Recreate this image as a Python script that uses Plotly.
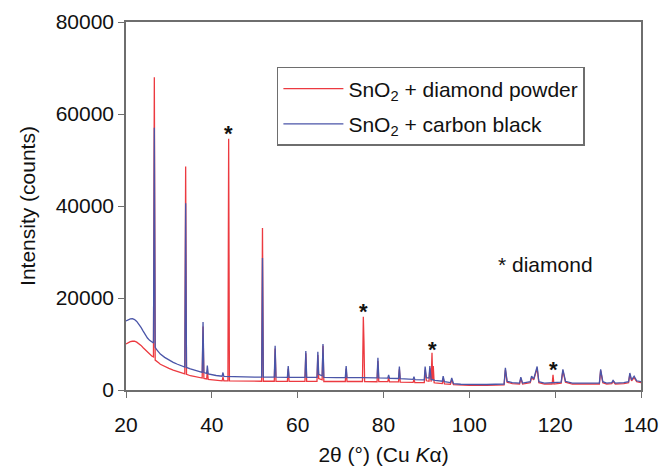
import plotly.graph_objects as go

# ---- data ----
red_name = "SnO<sub>2</sub> + diamond powder"
blue_name = "SnO<sub>2</sub> + carbon black"

red_points = [
    (20.0, 10000), (20.5, 10300), (21.0, 10500), (21.5, 10600), (22.0, 10600), (22.5, 10400),
    (23.0, 10100), (23.5, 9700), (24.0, 9200), (24.5, 8700), (25.0, 8200), (25.5, 7800),
    (26.0, 7400), (26.4, 7200), (26.6, 68000), (26.8, 6500), (27.2, 6100), (27.6, 5900),
    (28.0, 5600), (29.0, 5100), (30.0, 4700), (31.0, 4300), (32.0, 4000), (33.0, 3700),
    (33.7, 3500), (33.9, 48600), (34.1, 3400), (35.0, 3100), (36.0, 2900), (37.0, 2700),
    (37.75, 2600), (37.95, 13800), (38.15, 2500), (38.8, 2400), (38.95, 4200), (39.15, 2300),
    (40.0, 2200), (41.0, 2100), (42.4, 2000), (42.6, 2800), (42.8, 2000), (43.75, 2000),
    (43.92, 54600), (44.1, 2000), (46.0, 1950), (48.0, 1920), (50.0, 1900), (51.6, 1900),
    (51.8, 35200), (52.0, 1900), (54.55, 1900), (54.75, 9000), (54.95, 1900), (57.6, 1880),
    (57.8, 4600), (58.0, 1880), (61.7, 1870), (61.9, 8000), (62.1, 1870), (64.5, 1860),
    (64.7, 7600), (64.9, 2500), (65.7, 2200), (65.9, 9600), (66.1, 1850), (69.0, 1850),
    (71.1, 1850), (71.3, 4600), (71.5, 1850), (75.1, 1850), (75.3, 15900), (75.45, 10400),
    (75.6, 1850), (78.5, 1800), (78.7, 6300), (78.9, 1800), (81.0, 1800), (81.2, 2700),
    (81.4, 1780), (83.5, 1750), (83.7, 4500), (83.9, 1700), (86.9, 1650), (87.1, 2300),
    (87.3, 1600), (89.5, 1600), (89.7, 4400), (90.0, 2000), (90.6, 1900), (90.8, 4700),
    (91.1, 1800), (91.3, 8100), (91.45, 2200), (91.6, 5200), (91.8, 1600), (92.0, 1550),
    (93.7, 1400), (93.9, 2500), (94.2, 1350), (95.6, 1250), (95.9, 2200), (96.3, 1150),
    (98.0, 1050), (100.0, 1000), (104.0, 1000), (108.1, 1100), (108.4, 4400), (108.8, 1700),
    (110.0, 1400), (111.7, 1300), (112.0, 2500), (112.4, 1300), (114.2, 1600), (114.5, 2700),
    (115.0, 2200), (115.8, 4700), (116.2, 1600), (117.5, 1300), (119.3, 1300), (119.5, 3300),
    (119.7, 1300), (121.4, 1500), (121.8, 4200), (122.4, 1700), (124.0, 1300), (127.0, 1250),
    (130.3, 1300), (130.6, 4200), (131.1, 1600), (132.0, 1300), (133.2, 1400), (133.5, 1900),
    (134.0, 1300), (136.0, 1400), (137.1, 1600), (137.4, 3400), (137.8, 2000), (138.4, 2700),
    (139.0, 1800), (140.0, 1600),
]

blue_points = [
    (20.0, 15000), (20.5, 15300), (21.0, 15450), (21.5, 15500), (22.0, 15300), (22.5, 14900),
    (23.0, 14300), (23.5, 13600), (24.0, 12800), (24.5, 12000), (25.0, 11300), (25.5, 10800),
    (26.0, 10400), (26.4, 10200), (26.6, 57000), (26.8, 9300), (27.2, 8700), (27.6, 8300),
    (28.0, 7800), (29.0, 7100), (30.0, 6500), (31.0, 6000), (32.0, 5600), (33.0, 5200),
    (33.7, 5000), (33.9, 40600), (34.1, 4900), (35.0, 4600), (36.0, 4300), (37.0, 4000),
    (37.75, 3850), (37.95, 14800), (38.15, 3800), (38.8, 3600), (38.95, 5300), (39.15, 3500),
    (40.0, 3300), (41.0, 3150), (42.4, 3000), (42.6, 3800), (42.8, 2950), (44.0, 2900),
    (46.0, 2850), (48.0, 2820), (50.0, 2800), (51.6, 2800), (51.8, 28700), (52.0, 2800),
    (54.55, 2780), (54.75, 9600), (54.95, 2780), (57.6, 2760), (57.8, 5200), (58.0, 2760),
    (61.7, 2750), (61.9, 8500), (62.1, 2750), (64.5, 2750), (64.7, 8300), (64.9, 3400),
    (65.7, 3100), (65.9, 10000), (66.1, 2750), (69.0, 2700), (71.1, 2700), (71.3, 5200),
    (71.5, 2700), (75.0, 2680), (78.5, 2650), (78.7, 7000), (78.9, 2650), (81.0, 2600),
    (81.2, 3300), (81.4, 2550), (83.5, 2500), (83.7, 5100), (83.9, 2450), (86.9, 2300),
    (87.1, 2900), (87.3, 2250), (89.5, 2200), (89.7, 5100), (90.0, 2700), (90.6, 2600),
    (90.8, 5200), (91.1, 2300), (91.5, 2200), (92.0, 2100), (93.7, 1900), (93.9, 3000),
    (94.2, 1800), (95.6, 1600), (95.9, 2600), (96.3, 1400), (98.0, 1250), (100.0, 1200),
    (104.0, 1200), (108.1, 1300), (108.4, 4800), (108.8, 1900), (110.0, 1600), (111.7, 1500),
    (112.0, 2800), (112.4, 1500), (114.2, 1800), (114.5, 3000), (115.0, 2400), (115.8, 5100),
    (116.2, 1800), (117.5, 1500), (121.4, 1700), (121.8, 4500), (122.4, 1900), (124.0, 1500),
    (127.0, 1450), (130.3, 1500), (130.6, 4500), (131.1, 1800), (132.0, 1500), (133.2, 1600),
    (133.5, 2100), (134.0, 1500), (136.0, 1600), (137.1, 1800), (137.4, 3700), (137.8, 2200),
    (138.4, 3000), (139.0, 2000), (140.0, 1800),
]

diamond_2theta = [43.9, 75.3, 91.3, 119.5]
star_counts = [56800, 18100, 9800, 5650]

x_ticks = [20, 40, 60, 80, 100, 120, 140]
y_ticks = [0, 20000, 40000, 60000, 80000]
y_tick_labels = ["0", "20000", "40000", "60000", "80000"]

RED = "#ec3a40"
BLUE = "#4a55a8"
AXIS = "#6e6e6e"
FONT = "Arial, Liberation Sans, sans-serif"
FS = 21

red_x = [p[0] for p in red_points]
red_y = [p[1] for p in red_points]
blue_x = [p[0] for p in blue_points]
blue_y = [p[1] for p in blue_points]

fig = go.Figure()
fig.add_trace(go.Scatter(x=red_x, y=red_y, mode="lines", name=red_name, legendgroup="r",
                         line=dict(color=RED, width=1.3)))
fig.add_trace(go.Scatter(x=blue_x, y=blue_y, mode="lines", name=blue_name, legendgroup="b",
                         line=dict(color=BLUE, width=1.3)))

for xv, yv in zip(diamond_2theta, star_counts):
    fig.add_annotation(x=xv, y=yv, text="*", showarrow=False,
                       font=dict(size=22, color="#111", family=FONT, weight="bold"),
                       xanchor="center", yanchor="middle", yshift=-5)

fig.add_annotation(x=106.3, y=27200, text="* diamond", showarrow=False,
                   xanchor="left", yanchor="middle",
                   font=dict(size=FS, color="#111", family=FONT))

fig.update_layout(
    width=659, height=466,
    margin=dict(l=126, r=18, t=22, b=76),
    paper_bgcolor="white", plot_bgcolor="white",
    font=dict(family=FONT, size=FS, color="#111"),
    showlegend=True,
    legend=dict(x=0.293, y=0.878, xanchor="left", yanchor="top",
                bordercolor=AXIS, borderwidth=1.5, bgcolor="white",
                font=dict(size=FS, color="#111", family=FONT),
                entrywidth=292, entrywidthmode="pixels",
                tracegroupgap=5, itemwidth=60),
)
fig.update_xaxes(range=[20, 140], tickvals=x_ticks, ticks="outside", ticklen=6,
                 tickcolor=AXIS, showline=True, linecolor=AXIS, linewidth=1.5,
                 mirror=True, showgrid=False, zeroline=False, automargin=False,
                 ticklabelstandoff=9,
                 tickfont=dict(size=FS, family=FONT, color="#111"),
                 title=dict(text="2θ (°) (Cu <i>K</i>α)", standoff=18,
                            font=dict(size=FS, family=FONT, color="#111")))
fig.update_yaxes(range=[0, 80000], tickvals=y_ticks, ticktext=y_tick_labels,
                 ticks="outside", ticklen=6, automargin=False,
                 tickcolor=AXIS, showline=True, linecolor=AXIS, linewidth=1.5,
                 mirror=True, showgrid=False, zeroline=False,
                 tickfont=dict(size=FS, family=FONT, color="#111"),
                 title=dict(text="Intensity (counts)", standoff=14,
                            font=dict(size=FS, family=FONT, color="#111")))

fig.write_html("out.html")
